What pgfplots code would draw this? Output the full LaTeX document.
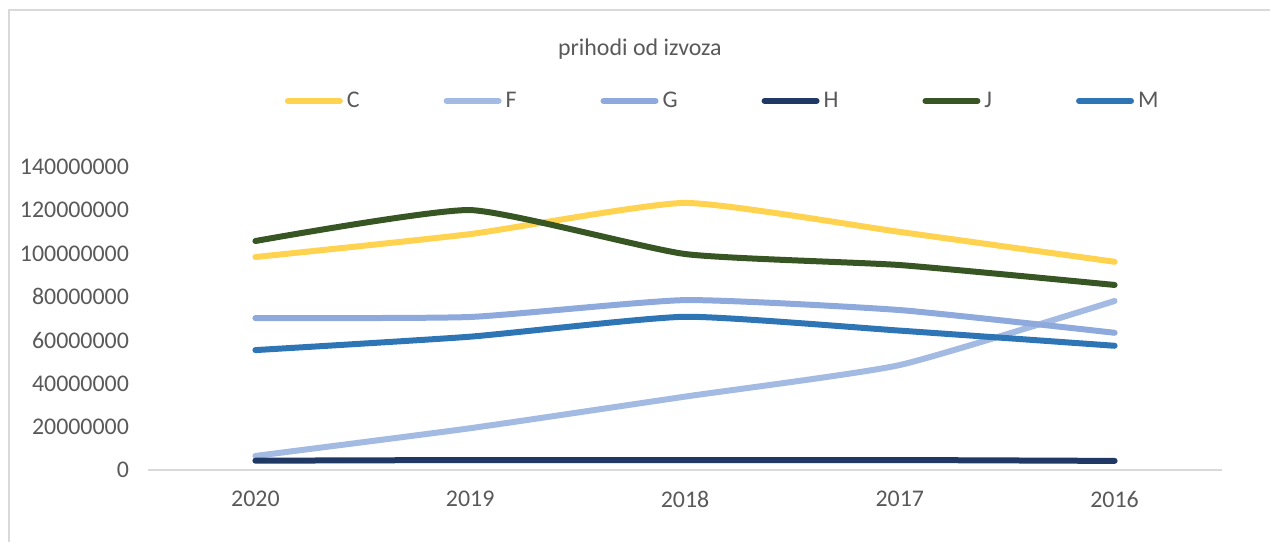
\documentclass[border=0pt]{standalone}
\usepackage{pgfplots}
\pgfplotsset{compat=1.18}
\usepackage{fontspec}
\setmainfont{Carlito}
\definecolor{cC}{HTML}{FFD34F}
\definecolor{cF}{HTML}{A3BBE3}
\definecolor{cG}{HTML}{8EA9DB}
\definecolor{cH}{HTML}{203864}
\definecolor{cJ}{HTML}{375623}
\definecolor{cM}{HTML}{2E75B6}
\definecolor{txt}{HTML}{595959}
\definecolor{frm}{HTML}{D9D9D9}
\begin{document}
\begin{tikzpicture}
\useasboundingbox (-74bp,-36bp) rectangle (561bp,235bp);
\draw[frm, line width=1.2bp] (-69.5bp,-36bp) -- (-69.5bp,230bp) -- (561bp,230bp);
\begin{axis}[
  at={(0,0)}, anchor=south west,
  scale only axis, width=537bp, height=151.5bp,
  xmin=-0.5, xmax=4.5, ymin=0, ymax=140000000,
  xtick={0,1,2,3,4}, xticklabels={2020,2019,2018,2017,2016},
  ytick={0,20000000,40000000,60000000,80000000,100000000,120000000,140000000},
  yticklabels={0,20000000,40000000,60000000,80000000,100000000,120000000,140000000},
  scaled y ticks=false,
  axis x line*=bottom, axis y line*=left,
  x axis line style={draw=none, -}, y axis line style={draw=none, -},
  major tick length=0pt,
  tick label style={font=\fontsize{12}{14}\selectfont, text=txt},
  yticklabel style={anchor=east, xshift=-6bp},
  xticklabel style={yshift=-7bp},
  clip=false,
  title={prihodi od izvoza},
  title style={font=\fontsize{12}{14}\selectfont, text=txt, at={(axis description cs:0.458,1.35)}, anchor=center},
  legend columns=6,
  legend style={draw=none, fill=none, at={(axis description cs:0.536,1.218)}, anchor=center,
    font=\fontsize{12}{14}\selectfont, text=txt,
    /tikz/every even column/.append style={column sep=40bp}},
  legend image code/.code={\draw[#1, line cap=round] (0bp,0bp) -- (26bp,0bp);},
  every axis plot/.append style={line width=3bp, smooth, tension=0.3, line cap=round, line join=round, no markers},
]
\draw[frm, line width=1bp] (axis cs:-0.5,0) -- (axis cs:4.5,0);
\addplot[cC] coordinates {(0,98400000) (1,109000000) (2,123400000) (3,110000000) (4,96200000)};
\addlegendentry{C}
\addplot[cF] coordinates {(0,6500000) (1,19300000) (2,33900000) (3,48500000) (4,78100000)};
\addlegendentry{F}
\addplot[cG] coordinates {(0,70200000) (1,70700000) (2,78500000) (3,73900000) (4,63400000)};
\addlegendentry{G}
\addplot[cH] coordinates {(0,4300000) (1,4600000) (2,4600000) (3,4600000) (4,4200000)};
\addlegendentry{H}
\addplot[cJ] coordinates {(0,105800000) (1,120100000) (2,99800000) (3,94700000) (4,85500000)};
\addlegendentry{J}
\addplot[cM] coordinates {(0,55400000) (1,61600000) (2,70800000) (3,64400000) (4,57400000)};
\addlegendentry{M}
\end{axis}
\end{tikzpicture}
\end{document}
